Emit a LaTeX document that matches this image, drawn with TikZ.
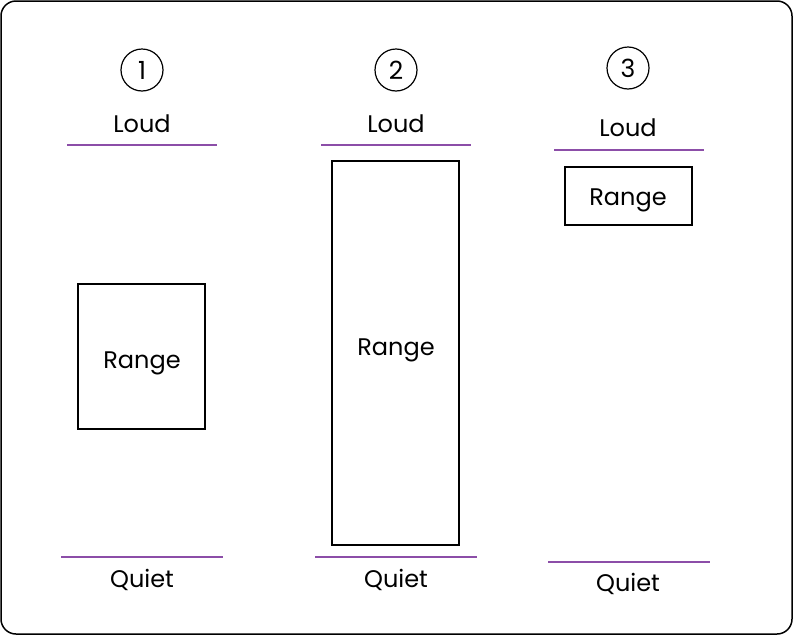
\documentclass[tikz,border=0pt]{standalone}
\usepackage{fontspec}
\setmainfont{Poppins}
\definecolor{lvl}{RGB}{140,78,168}
\tikzset{
  frame/.style={draw=black, line width=1.5pt, rounded corners=15pt},
  num/.style={draw=black, circle, line width=1.2pt, minimum size=42pt, inner sep=0pt, font=\fontsize{25}{27}\selectfont},
  lbl/.style={font=\fontsize{24}{26}\selectfont, inner sep=0pt, anchor=base},
  rangebox/.style={draw=black, line width=1.5pt, inner sep=0pt},
  level/.style={draw=lvl, line width=2pt},
}
\begin{document}
\begin{tikzpicture}[x=1pt,y=-1pt]
\useasboundingbox (0,0) rectangle (793,635);
\draw[frame] (1,1) rectangle (792,634);
% column 1
\node[num] (c1) at (142,70) {1};
\node[lbl] (loud1) at (142,132) {Loud};
\coordinate (l1a) at (67,145); \coordinate (l1b) at (217,145);
\draw[level] (l1a) -- (l1b);
\node[rangebox, minimum width=127pt, minimum height=145pt] (r1) at (141.5,356.5) {};
\node[lbl] (rt1) at (142,368) {Range};
\coordinate (q1a) at (61,557); \coordinate (q1b) at (223,557);
\draw[level] (q1a) -- (q1b);
\node[lbl] (quiet1) at (142,587) {Quiet};
% column 2
\node[num] (c2) at (396,70) {2};
\node[lbl] (loud2) at (396,132) {Loud};
\coordinate (l2a) at (321,145); \coordinate (l2b) at (471,145);
\draw[level] (l2a) -- (l2b);
\node[rangebox, minimum width=127pt, minimum height=384pt] (r2) at (395.5,353) {};
\node[lbl] (rt2) at (396,355) {Range};
\coordinate (q2a) at (315,557); \coordinate (q2b) at (477,557);
\draw[level] (q2a) -- (q2b);
\node[lbl] (quiet2) at (396,587) {Quiet};
% column 3
\node[num] (c3) at (628,68) {3};
\node[lbl] (loud3) at (628,136) {Loud};
\coordinate (l3a) at (554,150); \coordinate (l3b) at (704,150);
\draw[level] (l3a) -- (l3b);
\node[rangebox, minimum width=127pt, minimum height=58pt] (r3) at (628.5,196) {};
\node[lbl] (rt3) at (628,205) {Range};
\coordinate (q3a) at (548,562); \coordinate (q3b) at (710,562);
\draw[level] (q3a) -- (q3b);
\node[lbl] (quiet3) at (628,591) {Quiet};
\end{tikzpicture}
\end{document}
